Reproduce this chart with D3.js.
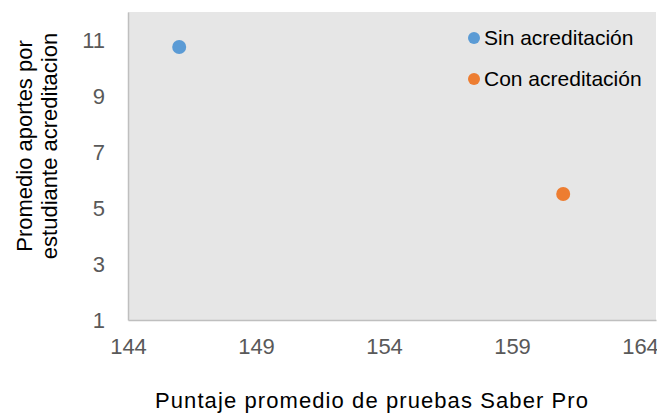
<!DOCTYPE html>
<html>
<head>
<meta charset="utf-8">
<script src="https://cdn.jsdelivr.net/npm/d3@7"></script>
<style>
  body { margin: 0; background: #fff; }
  text { font-family: "Liberation Sans", Arial, sans-serif; }
</style>
</head>
<body>
<div id="chart"></div>
<script>
var series = ["Sin acreditación", "Con acreditación"];
var colors = ["#5b9bd5", "#ed7d31"];
var puntaje = [146.0, 161.0];
var aportes = [10.75, 5.5];
var xTicks = [144, 149, 154, 159, 164];
var yTicks = [1, 3, 5, 7, 9, 11];

var width = 657, height = 414;
var margin = {left: 128, top: 12, right: 1, bottom: 94};

var svg = d3.select("#chart").append("svg")
    .attr("width", width)
    .attr("height", height);

var x = d3.scaleLinear()
    .domain([144, 164.625])
    .range([margin.left, width - margin.right]);
var y = d3.scaleLinear()
    .domain([1, 12])
    .range([height - margin.bottom, margin.top]);

// plot area
svg.append("rect")
    .attr("x", margin.left)
    .attr("y", margin.top)
    .attr("width", width - margin.right - margin.left)
    .attr("height", height - margin.bottom - margin.top)
    .style("fill", "#e6e6e6");

var xAxis = svg.append("g")
    .attr("transform", "translate(0," + (height - margin.bottom) + ")")
    .call(d3.axisBottom(x).tickValues(xTicks).tickSize(0).tickPadding(18));
xAxis.select(".domain").attr("stroke", "#bfbfbf").attr("stroke-width", 1.5);
xAxis.selectAll(".tick text")
    .style("font-size", "22px")
    .style("fill", "#595959")
    .style("font-family", "Liberation Sans, Arial, sans-serif");

var yAxis = svg.append("g")
    .attr("transform", "translate(" + margin.left + ",0)")
    .call(d3.axisLeft(y).tickValues(yTicks).tickSize(0).tickPadding(23));
yAxis.select(".domain").attr("stroke", "#bfbfbf").attr("stroke-width", 1.5);
yAxis.selectAll(".tick text")
    .style("font-size", "22px")
    .style("fill", "#595959")
    .style("font-family", "Liberation Sans, Arial, sans-serif");

// points
svg.selectAll(".dot")
    .data(puntaje)
    .enter().append("circle")
    .attr("class", "dot")
    .attr("cx", function(d) { return x(d); })
    .attr("cy", function(d, i) { return y(aportes[i]); })
    .attr("r", 7)
    .style("fill", function(d, i) { return colors[i]; });

// legend
var legend = svg.selectAll(".legend")
    .data(series)
    .enter().append("g")
    .attr("class", "legend")
    .attr("transform", function(d, i) { return "translate(474," + (38 + i * 41) + ")"; });
legend.append("circle")
    .attr("r", 6)
    .style("fill", function(d, i) { return colors[i]; });
legend.append("text")
    .attr("x", 10)
    .attr("dy", "0.35em")
    .style("font-size", "21px")
    .style("fill", "#000")
    .text(function(d) { return d; });

// axis titles
svg.append("text")
    .attr("x", 155)
    .attr("y", 408)
    .attr("textLength", 433)
    .attr("lengthAdjust", "spacing")
    .style("font-size", "22px")
    .style("fill", "#000")
    .text("Puntaje promedio de pruebas Saber Pro");

var yTitle = svg.append("text")
    .attr("transform", "translate(0,146) rotate(-90)")
    .attr("text-anchor", "middle")
    .style("font-size", "22px")
    .style("fill", "#000");
yTitle.append("tspan").attr("x", 0).attr("y", 32).text("Promedio aportes por");
yTitle.append("tspan").attr("x", 0).attr("y", 57).text("estudiante acreditacion");
</script>
</body>
</html>
